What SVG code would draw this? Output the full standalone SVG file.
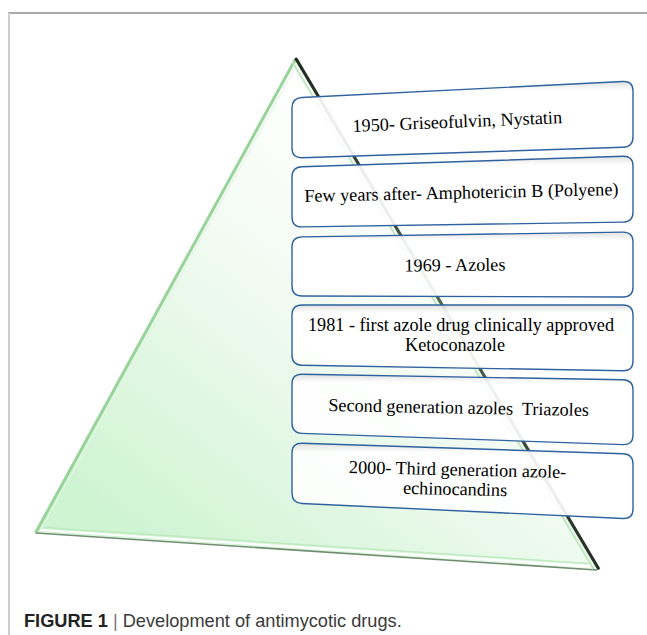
<svg xmlns="http://www.w3.org/2000/svg" width="647" height="635" viewBox="0 0 647 635">
<defs>
  <linearGradient id="triFill" gradientUnits="userSpaceOnUse" x1="430" y1="170" x2="140" y2="540">
    <stop offset="0" stop-color="#ffffff"/>
    <stop offset="0.35" stop-color="#f4fbf4"/>
    <stop offset="1" stop-color="#cff4d2"/>
  </linearGradient>
  <linearGradient id="rightEdge" gradientUnits="userSpaceOnUse" x1="295" y1="60" x2="597" y2="569">
    <stop offset="0" stop-color="#1f2a1f"/>
    <stop offset="0.5" stop-color="#4f6a4f"/>
    <stop offset="1" stop-color="#262f26"/>
  </linearGradient>
  <linearGradient id="boxFill" x1="0" y1="0" x2="0" y2="1">
    <stop offset="0" stop-color="#dedede"/>
    <stop offset="0.12" stop-color="#ffffff"/>
    <stop offset="1" stop-color="#ffffff"/>
  </linearGradient>
</defs>
<style>
  .frameTop { stroke: #8f8f8f; stroke-width: 1.5; fill: none; }
  .frameLeft { stroke: #cfcfcf; stroke-width: 2; fill: none; }
  .box { fill: url(#boxFill); fill-opacity: 0.91; stroke: #2f62a0; stroke-width: 1.4; }
  .lbl { font-family: "Liberation Serif", "Times New Roman", serif; font-size: 18.2px; fill: #000; text-anchor: middle; }
  .cap { font-family: "Liberation Sans", Arial, sans-serif; font-size: 18.2px; fill: #3a3a3a; }
</style>

<!-- frame -->
<line class="frameTop" x1="8" y1="13" x2="647" y2="13"/>
<line class="frameLeft" x1="9" y1="13" x2="9" y2="635"/>

<!-- pyramid -->
<g id="pyramid">
  <polygon points="295,60 36,532 597,569" fill="url(#triFill)"/>
  <!-- left edge bevel -->
  <line x1="295" y1="60" x2="36" y2="532" stroke="#98d49a" stroke-width="3" stroke-linecap="round"/>
  <line x1="297.5" y1="63.5" x2="40" y2="531" stroke="#e4f6e4" stroke-width="1.2"/>
  <!-- bottom edge bevel -->
  <line x1="36" y1="533" x2="597" y2="570" stroke="#6f8c6f" stroke-width="1.6"/>
  <line x1="40" y1="530" x2="592" y2="566.5" stroke="#ffffff" stroke-width="2"/>
  <line x1="44" y1="527.5" x2="588" y2="563.5" stroke="#bfe9c1" stroke-width="1.5"/>
  <!-- right edge bevel -->
  <line x1="296.3" y1="59.2" x2="598.3" y2="568.2" stroke="url(#rightEdge)" stroke-width="3.2" stroke-linecap="round"/>
  <line x1="292.5" y1="62" x2="593.5" y2="569" stroke="#bfe8c0" stroke-width="2"/>
</g>

<!-- boxes -->
<g id="box1">
  <path class="box" d="M292,108 Q292,98 302,97.5 L623,81.5 Q633,81 633,91 L633,137 Q633,147 623,147.3 L302,157.7 Q292,158 292,148 Z"/>
  <text class="lbl" x="457.5" y="127.5" transform="rotate(-2.4 457.5 127.5)">1950- Griseofulvin, Nystatin</text>
</g>
<g id="box2">
  <path class="box" d="M292,177 Q292,167 302,166.7 L623,156.3 Q633,156 633,166 L633,212 Q633,222 623,222.15 L302,226.85 Q292,227 292,217 Z"/>
  <text class="lbl" x="461.5" y="198.5" transform="rotate(-1.25 461.5 198.5)">Few years after- Amphotericin B (Polyene)</text>
</g>
<g id="box3">
  <path class="box" d="M292,247 Q292,237 302,236.85 L623,232.15 Q633,232 633,242 L633,287 Q633,297 623,297 L302,296 Q292,296 292,286 Z"/>
  <text class="lbl" x="455" y="271" transform="rotate(-0.6 455 271)">1969 - Azoles</text>
</g>
<g id="box4">
  <path class="box" d="M292,315 Q292,305 302,305 L623,305 Q633,305 633,315 L633,361 Q633,371 623,370.8 L302,365.2 Q292,365 292,355 Z"/>
  <text class="lbl" x="461" y="331">1981 - first azole drug clinically approved</text>
  <text class="lbl" x="455" y="351">Ketoconazole</text>
</g>
<g id="box5">
  <path class="box" d="M292,384 Q292,374 302,374.2 L623,379.8 Q633,380 633,390 L633,435 Q633,445 623,444.65 L302,433.35 Q292,433 292,423 Z"/>
  <text class="lbl" x="458.5" y="413.5" transform="rotate(1.1 458.5 413.5)" xml:space="preserve">Second generation azoles  Triazoles</text>
</g>
<g id="box6">
  <path class="box" d="M292,453 Q292,443 302,443.3 L623,453.7 Q633,454 633,464 L633,509 Q633,519 623,518.5 L302,503.5 Q292,503 292,493 Z"/>
  <text class="lbl" x="457.5" y="475.5" transform="rotate(1.3 457.5 475.5)">2000- Third generation azole-</text>
  <text class="lbl" x="455" y="495" transform="rotate(1.3 455 495)">echinocandins</text>
</g>

<g id="connectors"></g>

<!-- caption -->
<text class="cap" x="24" y="627"><tspan font-weight="bold" fill="#222">FIGURE 1</tspan><tspan fill="#777"> | </tspan><tspan>Development of antimycotic drugs.</tspan></text>
</svg>
